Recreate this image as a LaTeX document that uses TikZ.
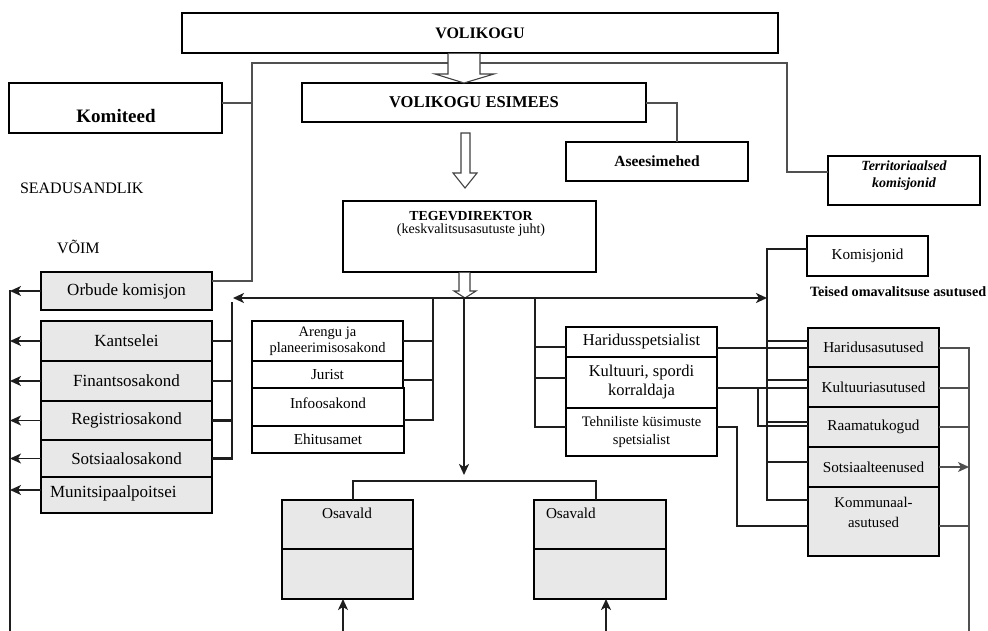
\documentclass[tikz,border=0pt]{standalone}
\usepackage{fontspec}
\setmainfont{Liberation Serif}
\usetikzlibrary{arrows.meta}
\definecolor{boxgray}{RGB}{232,232,232}
\definecolor{linegray}{RGB}{80,80,80}
\definecolor{linedark}{RGB}{30,30,30}

\newcommand{\fs}[2]{\fontsize{#1}{#2}\selectfont}

\begin{document}
\begin{tikzpicture}[x=1pt,y=-1pt,
  every node/.style={inner sep=0pt, outer sep=0pt},
  box/.style={draw=black, line width=1.4pt, fill=white, rectangle, align=center},
  graybox/.style={box, fill=boxgray},
  graylink/.style={draw=linegray, line width=1.4pt},
  darklink/.style={draw=linedark, line width=1.3pt},
  mainlink/.style={draw=linedark, line width=2.2pt},
  sidelink/.style={draw=linedark, line width=1.6pt},
  tip/.style={-{Stealth[length=11pt,width=10pt,inset=3pt]}},
  hollow/.style={draw=black!75, line width=1.1pt, fill=white, line join=miter},
  t17/.style={font=\fs{17}{20}},
  t16/.style={font=\fs{16}{19}},
  t15/.style={font=\fs{15.2}{18}},
  t14/.style={font=\fs{14.5}{17}}
]
\useasboundingbox (0,0) rectangle (988,631);

% ---------- boxes ----------
\node[box, minimum width=596pt, minimum height=40pt, font=\fs{16}{18}\bfseries] (vol) at (480,33) {VOLIKOGU};
\node[box, minimum width=344pt, minimum height=39pt, font=\fs{16.5}{18}\bfseries] (esi) at (474,102.5) {VOLIKOGU ESIMEES};
\node[box, minimum width=213pt, minimum height=50pt] (kom) at (115.5,108) {};
\node[font=\fs{19}{22}\bfseries] (komt) at (116,116) {Komiteed};
\node[box, minimum width=182pt, minimum height=39pt, font=\fs{15.5}{18}\bfseries] (ase) at (657,161.5) {Aseesimehed};
\node[box, minimum width=152pt, minimum height=49pt] (ter) at (904,180.5) {};
\node[font=\fs{14}{17}\bfseries\itshape, align=center] (tert) at (904,176) {Territoriaalsed\\komisjonid};

\node[t16, anchor=west] (sea) at (20,188) {SEADUSANDLIK};
\node[t16, anchor=west] (voim) at (57,247) {VÕIM};

\node[box, minimum width=253pt, minimum height=71pt] (teg) at (469.5,236.5) {};
\node[align=center] (tegt) at (471,224) {{\fs{13.8}{16}\bfseries TEGEVDIREKTOR}\\[1pt]{\fs{14}{16}(keskvalitsusasutuste juht)}};

% left column (grey)
\node[graybox, t17, minimum width=171pt, minimum height=38pt] (orb) at (126.5,291) {Orbude komisjon};
\node[graybox, t17, minimum width=171pt, minimum height=40pt] (kan) at (126.5,341) {Kantselei};
\node[graybox, t17, minimum width=171pt, minimum height=40pt] (fin) at (126.5,381) {Finantsosakond};
\node[graybox, t17, minimum width=171pt, minimum height=39pt] (reg) at (126.5,420.5) {Registriosakond};
\node[graybox, t17, minimum width=171pt, minimum height=37pt] (sot) at (126.5,458.5) {Sotsiaalosakond};
\node[graybox, minimum width=171pt, minimum height=36pt] (mun) at (126.5,495) {};
\node[t17, anchor=west] (munt) at (50,493) {Munitsipaalpoitsei};

% middle column (white)
\node[box, minimum width=151pt, minimum height=40pt, font=\fs{14.5}{16}] (are) at (327.5,341) {Arengu ja\\planeerimisosakond};
\node[box, t15, minimum width=151pt, minimum height=27pt] (jur) at (327.5,374.5) {Jurist};
\node[box, minimum width=152pt, minimum height=38pt] (inf) at (328,407) {};
\node[t15] (inft) at (328,403) {Infoosakond};
\node[box, t15, minimum width=152pt, minimum height=27pt] (ehi) at (328,439.5) {Ehitusamet};

% specialists
\node[box, font=\fs{16.5}{19}, minimum width=151pt, minimum height=30pt] (har) at (641.5,342) {Haridusspetsialist};
\node[box, font=\fs{16.5}{19}, minimum width=151pt, minimum height=51pt] (kul) at (641.5,382.5) {Kultuuri, spordi\\korraldaja};
\node[box, font=\fs{14.5}{18}, minimum width=151pt, minimum height=48pt] (teh) at (641.5,432) {Tehniliste küsimuste\\spetsialist};

% other institutions
\node[box, t15, minimum width=121pt, minimum height=40pt] (kms) at (867.5,256) {Komisjonid};
\node[font=\fs{14.2}{16}\bfseries, anchor=west] (teised) at (810,292) {Teised omavalitsuse asutused};
\node[graybox, t15, minimum width=131pt, minimum height=39pt] (hasu) at (873.5,347.5) {Haridusasutused};
\node[graybox, t15, minimum width=131pt, minimum height=40pt] (kasu) at (873.5,387) {Kultuuriasutused};
\node[graybox, t15, minimum width=131pt, minimum height=40pt] (raa) at (873.5,427) {Raamatukogud};
\node[graybox, t15, minimum width=131pt, minimum height=40pt] (sots) at (873.5,467) {Sotsiaalteenused};
\node[graybox, minimum width=131pt, minimum height=69pt] (kmm) at (873.5,521.5) {};
\node[font=\fs{14.8}{20}, align=center] (kmmt) at (873.5,512) {Kommunaal-\\asutused};

% rural districts
\node[graybox, minimum width=131pt, minimum height=99pt] (osa1) at (347.5,549.5) {};
\node[graybox, minimum width=132pt, minimum height=99pt] (osa2) at (600,549.5) {};
\draw[line width=1.4pt] (osa1.west |- 0,549) -- (osa1.east |- 0,549);
\draw[line width=1.4pt] (osa2.west |- 0,549) -- (osa2.east |- 0,549);
\node[t15] (osa1t) at (347,513) {Osavald};
\node[t15, anchor=west] (osa2t) at (546,513) {Osavald};

% ---------- council links ----------
\coordinate (g1) at (252,63);
\coordinate (g2) at (787,63);
\draw[graylink] ([yshift=-9pt]orb.north east) -| (g1) -- (g2) |- ([yshift=8.5pt]ter.west);
\draw[graylink] ([yshift=5pt]kom.east) -- ([yshift=5pt]kom.east -| g1);
\draw[graylink] ([yshift=-0.5pt]esi.east) -| (ase.north -| 677,0);

% hollow block arrows
\path[hollow] (448,53.7) -- (448,74) -- (435,74) -- (464,83) -- (494,74) -- (480,74) -- (480,53.7);
\path[hollow] (461,133) -- (461,173) -- (453,173) -- (465,188) -- (477,173) -- (470,173) -- (470,133) -- cycle;
\path[hollow] (459,272.7) -- (459,291) -- (454,291) -- (465,298) -- (476,291) -- (470,291) -- (470,272.7);

% ---------- executive distribution line ----------
\coordinate (hub) at (464,298);
\coordinate (hl) at (233,298);
\coordinate (hr) at (767,298);
\draw[mainlink, tip] (hub) -- (hl);
\draw[mainlink, tip] (hub) -- (hr);

% left departments
\coordinate (lb) at (232,302);
\draw[mainlink] (lb) |- (sot.east);
\foreach \n in {kan,fin,reg} \draw[mainlink] (\n.east) -- (\n.east -| lb);

% middle departments
\coordinate (mb) at (433,298);
\draw[mainlink] (mb) |- (inf.east |- 0,420);
\draw[mainlink] (are.east) -- (are.east -| mb);
\draw[mainlink] (jur.east |- 0,380) -- (mb |- 0,380);

% down to the rural districts
\coordinate (hd) at (464,475);
\draw[mainlink, tip] (hub) -- (hd);
\coordinate (j1) at (353,481);
\coordinate (j2) at (596,481);
\draw[mainlink] (osa1.north -| j1) -- (j1) -- (j2) -- (osa2.north -| j2);

% specialists bracket
\coordinate (rb) at (535,298);
\draw[mainlink] (rb) |- (teh.west |- 0,427);
\draw[mainlink] (har.west |- 0,347) -- (rb |- 0,347);
\draw[mainlink] (kul.west |- 0,378) -- (rb |- 0,378);

% institutions bracket
\coordinate (xb) at (767,249);
\draw[mainlink] (kms.west |- xb) -- (xb) |- (kmm.west |- 0,500);
\draw[mainlink] (xb |- 0,341) -- (hasu.west |- 0,341);
\draw[mainlink] (xb |- 0,380) -- (kasu.west |- 0,380);
\draw[mainlink] (xb |- 0,422) -- (raa.west |- 0,422);
\draw[mainlink] (xb |- 0,462) -- (sots.west |- 0,462);

% specialists to institutions
\draw[darklink] (har.east |- 0,348) -- (hasu.west |- 0,348);
\draw[darklink] (kul.east |- 0,388) -- (kasu.west |- 0,388);
\draw[darklink] (758,388) |- (raa.west |- 0,426);
\draw[darklink] (teh.east |- 0,427) -| (737,526) -- (kmm.west |- 0,526);

% institutions outer line
\coordinate (ro) at (969,631);
\draw[graylink] (hasu.east |- 0,348) -| (ro);
\draw[graylink] (kasu.east |- 0,388) -- (ro |- 0,388);
\draw[graylink] (raa.east |- 0,427) -- (ro |- 0,427);
\draw[graylink, tip] (sots.east) -- (ro |- sots.east);
\draw[graylink] (kmm.east |- 0,526) -- (ro |- 0,526);

% left outer line
\coordinate (lo) at (10,290);
\coordinate (lo2) at (10,631);
\draw[sidelink] (lo) -- (lo2);
\foreach \n in {orb,kan,fin,reg,sot} \draw[sidelink, tip] (\n.west) -- (\n.west -| lo);
\draw[sidelink, tip] (mun.west |- 0,490) -- (lo |- 0,490);

% bottom inputs to rural districts
\coordinate (b1) at (343,631);
\coordinate (b2) at (606,631);
\draw[sidelink, tip] (b1) -- (osa1.south -| b1);
\draw[sidelink, tip] (b2) -- (osa2.south -| b2);
\end{tikzpicture}
\end{document}
